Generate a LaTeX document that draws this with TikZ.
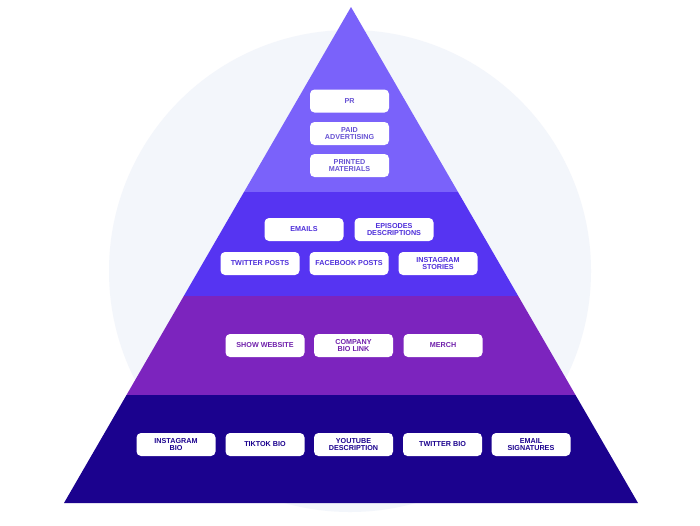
\documentclass[tikz,border=0pt]{standalone}
\usepackage{fontspec}
\setmainfont{Liberation Sans}
\definecolor{bgcircle}{RGB}{243,246,251}
\definecolor{tierone}{RGB}{122,98,250}
\definecolor{tiertwo}{RGB}{86,52,242}
\definecolor{tierthree}{RGB}{124,36,190}
\definecolor{tierfour}{RGB}{27,2,142}
\begin{document}
\begin{tikzpicture}[x=1pt,y=-1pt,line join=round,
  tag/.style={rectangle,rounded corners=4.5pt,fill=white,minimum width=79pt,minimum height=23pt,
    inner sep=1pt,align=center,font=\fontsize{7.2}{7.4}\selectfont\bfseries},
  tagone/.style={tag,text=tierone!85!black},
  tagtwo/.style={tag,text=tiertwo!90!black},
  tagthree/.style={tag,text=tierthree!90!black},
  tagfour/.style={tag,text=tierfour}]
\useasboundingbox (0,0) rectangle (700,525);
\fill[white] (0,0) rectangle (700,525);
\fill[bgcircle] (350,271) circle (241);
% pyramid tiers, top to bottom
\fill[tierone] (351,7) -- (458,192) -- (244,192) -- cycle;
\fill[tiertwo] (244,192) -- (458,192) -- (518.2,296) -- (183.8,296) -- cycle;
\fill[tierthree] (183.8,296) -- (518.2,296) -- (575.5,395) -- (126.5,395) -- cycle;
\fill[tierfour] (126.5,395) -- (575.5,395) -- (638,503) -- (64,503) -- cycle;
% top tier
\node[tagone] (pr) at (349.5,101) {PR};
\node[tagone] (paid) at (349.5,133.5) {PAID\\ADVERTISING};
\node[tagone] (printed) at (349.5,165.5) {PRINTED\\MATERIALS};
% second tier
\node[tagtwo] (emails) at (304,229.5) {EMAILS};
\node[tagtwo] (episodes) at (394,229.5) {EPISODES\\DESCRIPTIONS};
\node[tagtwo] (twposts) at (260,263.5) {TWITTER POSTS};
\node[tagtwo] (fbposts) at (349,263.5) {FACEBOOK POSTS};
\node[tagtwo] (igstories) at (438,263.5) {INSTAGRAM\\STORIES};
% third tier
\node[tagthree] (website) at (265,345.5) {SHOW WEBSITE};
\node[tagthree] (biolink) at (353.5,345.5) {COMPANY\\BIO LINK};
\node[tagthree] (merch) at (443,345.5) {MERCH};
% bottom tier
\node[tagfour] (igbio) at (176,444.5) {INSTAGRAM\\BIO};
\node[tagfour] (tiktok) at (265,444.5) {TIKTOK BIO};
\node[tagfour] (youtube) at (353.5,444.5) {YOUTUBE\\DESCRIPTION};
\node[tagfour] (twbio) at (442.5,444.5) {TWITTER BIO};
\node[tagfour] (signatures) at (531,444.5) {EMAIL\\SIGNATURES};
\end{tikzpicture}
\end{document}
